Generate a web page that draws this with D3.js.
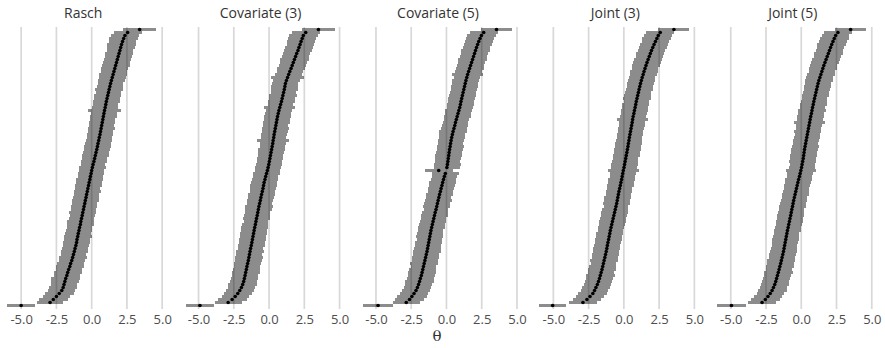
<!DOCTYPE html>
<html>
<head>
<meta charset="utf-8">
<script src="https://cdn.jsdelivr.net/npm/d3@7"></script>
<style>
  html, body { margin: 0; padding: 0; background: #fff; }
  svg { display: block; }
</style>
</head>
<body>
<svg id="chart" width="885" height="348"></svg>
<script>
// Person ability estimates (theta), ordered by rank, with their standard errors,
// for each of the five models.
const panelTitles = ["Rasch", "Covariate (3)", "Covariate (5)", "Joint (3)", "Joint (5)"];

const thetaRasch = [
  -5.00,-2.95,-2.72,-2.50,-2.30,-2.12,-2.02,-1.96,-1.90,-1.84,
  -1.76,-1.70,-1.63,-1.55,-1.49,-1.41,-1.35,-1.29,-1.23,-1.18,
  -1.12,-1.07,-1.04,-0.99,-0.95,-0.90,-0.86,-0.80,-0.77,-0.72,
  -0.67,-0.63,-0.58,-0.54,-0.49,-0.45,-0.40,-0.36,-0.31,-0.27,
  -0.22,-0.18,-0.13,-0.09,-0.04, 0.00, 0.05, 0.10, 0.16, 0.21,
   0.26, 0.31, 0.36, 0.41, 0.45, 0.50, 0.54, 0.59, 0.63, 0.67,
   0.71, 0.75, 0.79, 0.83, 0.87, 0.91, 0.96, 1.00, 1.04, 1.09,
   1.14, 1.19, 1.24, 1.29, 1.34, 1.40, 1.46, 1.52, 1.58, 1.64,
   1.70, 1.76, 1.82, 1.88, 1.94, 2.00, 2.06, 2.12, 2.19, 2.27,
   2.36, 2.55, 3.40
];
const seRasch = [
  1.00,0.95,1.02,0.98,1.04,0.97,1.01,0.95,0.99,1.03,
  0.94,0.98,0.92,1.00,0.96,0.93,0.99,0.91,0.97,0.94,
  0.90,0.96,0.93,0.98,0.91,0.95,0.89,0.94,0.97,0.92,
  0.88,0.95,0.91,0.93,0.89,0.96,0.92,0.90,0.94,0.88,
  0.93,0.91,0.95,0.89,0.92,0.90,0.94,0.88,0.93,0.91,
  0.96,0.89,0.92,0.95,0.90,0.93,0.88,0.94,0.91,0.96,
  0.90,0.93,0.89,0.95,0.92,1.18,0.94,0.90,0.96,0.92,
  0.95,0.91,0.97,0.93,0.90,0.96,0.94,0.98,0.92,0.95,
  0.99,0.93,0.97,0.95,1.00,0.94,0.98,1.01,0.96,1.02,
  0.99,1.00,1.15
];

const thetaCov3 = [
  -4.90,-2.90,-2.62,-2.40,-2.22,-2.08,-1.96,-1.87,-1.80,-1.75,
  -1.70,-1.66,-1.61,-1.57,-1.52,-1.47,-1.43,-1.39,-1.35,-1.31,
  -1.26,-1.22,-1.18,-1.14,-1.10,-1.06,-1.02,-0.97,-0.93,-0.89,
  -0.84,-0.80,-0.76,-0.72,-0.67,-0.62,-0.58,-0.53,-0.48,-0.43,
  -0.39,-0.35,-0.29,-0.24,-0.18,-0.12,-0.07,-0.02, 0.02, 0.06,
   0.10, 0.14, 0.18, 0.22, 0.26, 0.29, 0.33, 0.36, 0.40, 0.44,
   0.48, 0.52, 0.56, 0.60, 0.65, 0.70, 0.76, 0.82, 0.88, 0.93,
   0.98, 1.03, 1.08, 1.12, 1.16, 1.23, 1.31, 1.39, 1.47, 1.56,
   1.64, 1.72, 1.80, 1.88, 1.96, 2.05, 2.12, 2.20, 2.27, 2.35,
   2.43, 2.60, 3.50
];
const seCov3 = [
  0.98,0.96,1.03,0.97,1.01,0.99,0.95,1.02,0.94,0.98,
  0.93,1.00,0.95,0.91,0.97,0.94,0.99,0.92,0.96,0.90,
  0.95,0.93,0.98,0.89,0.94,0.91,0.96,0.92,0.88,0.95,
  0.93,0.90,0.94,0.97,0.89,0.93,0.91,0.95,0.88,0.92,
  0.96,0.90,0.93,0.89,0.94,0.91,0.95,0.92,0.88,0.94,
  0.90,0.93,0.96,0.89,0.92,1.12,0.90,0.94,0.91,0.95,
  0.89,0.93,0.90,0.96,0.92,0.94,1.10,0.91,0.95,0.93,
  0.97,0.90,0.94,0.96,0.92,0.98,1.15,0.95,0.93,0.99,
  0.96,0.94,1.00,0.97,0.95,1.01,0.98,0.96,1.02,0.99,
  1.01,0.98,1.15
];

const thetaCov5 = [
  -4.85,-2.85,-2.62,-2.45,-2.30,-2.16,-2.06,-1.98,-1.91,-1.85,
  -1.78,-1.73,-1.68,-1.63,-1.58,-1.53,-1.48,-1.43,-1.38,-1.34,
  -1.30,-1.26,-1.22,-1.18,-1.14,-1.10,-1.05,-1.00,-0.95,-0.90,
  -0.85,-0.80,-0.74,-0.69,-0.64,-0.59,-0.54,-0.49,-0.43,-0.38,
  -0.32,-0.27,-0.21,-0.15,-0.08,-0.55, 0.03, 0.07, 0.10, 0.13,
   0.16, 0.19, 0.22, 0.26, 0.29, 0.33, 0.37, 0.42, 0.47, 0.53,
   0.59, 0.64, 0.70, 0.76, 0.82, 0.88, 0.94, 0.99, 1.03, 1.08,
   1.13, 1.18, 1.23, 1.28, 1.33, 1.38, 1.44, 1.50, 1.57, 1.64,
   1.71, 1.78, 1.85, 1.92, 1.99, 2.06, 2.13, 2.21, 2.29, 2.38,
   2.48, 2.64, 3.55
];
const seCov5 = [
  1.05,0.97,1.00,1.04,0.96,1.02,0.98,0.95,1.01,0.97,
  0.94,0.99,0.96,0.92,0.98,0.93,0.95,0.91,0.97,0.94,
  0.92,0.96,0.90,0.95,0.93,0.89,0.96,0.92,0.94,0.90,
  0.95,0.91,0.88,0.94,0.92,0.96,0.89,0.93,0.91,0.95,
  0.90,0.94,0.92,0.88,0.95,0.98,0.91,0.94,0.89,0.93,
  0.96,0.90,0.92,0.95,0.88,0.94,0.91,0.93,0.97,0.90,
  0.94,0.92,0.89,0.95,0.93,0.96,0.91,0.94,0.90,0.97,
  0.93,0.95,0.92,0.98,0.94,0.96,0.93,1.12,0.95,0.99,
  0.97,0.94,1.00,0.96,0.98,1.02,0.95,0.99,1.01,0.97,
  1.03,1.00,1.12
];

const thetaJoint3 = [
  -5.05,-2.90,-2.62,-2.40,-2.20,-2.08,-1.98,-1.88,-1.80,-1.73,
  -1.67,-1.61,-1.55,-1.50,-1.45,-1.40,-1.35,-1.30,-1.25,-1.21,
  -1.17,-1.13,-1.08,-1.04,-1.00,-0.96,-0.91,-0.86,-0.81,-0.76,
  -0.71,-0.66,-0.61,-0.56,-0.51,-0.47,-0.43,-0.39,-0.35,-0.30,
  -0.25,-0.21,-0.16,-0.12,-0.08,-0.04, 0.01, 0.05, 0.09, 0.13,
   0.17, 0.21, 0.25, 0.29, 0.32, 0.36, 0.39, 0.43, 0.47, 0.51,
   0.55, 0.59, 0.62, 0.66, 0.71, 0.75, 0.80, 0.84, 0.88, 0.93,
   0.98, 1.03, 1.08, 1.13, 1.18, 1.24, 1.30, 1.37, 1.43, 1.50,
   1.57, 1.64, 1.72, 1.80, 1.88, 1.96, 2.05, 2.14, 2.24, 2.34,
   2.44, 2.58, 3.55
];
const seJoint3 = [
  0.96,0.98,1.01,0.96,1.03,0.97,1.00,0.94,0.99,0.96,
  1.02,0.93,0.97,0.95,0.91,0.98,0.94,0.96,0.92,0.97,
  0.93,0.90,0.95,0.92,0.96,0.89,0.94,0.91,0.95,0.93,
  0.90,0.96,0.92,0.88,0.94,0.91,0.95,0.89,0.93,0.90,
  0.94,0.92,0.96,0.89,0.93,1.08,0.90,0.94,0.92,0.88,
  0.95,0.91,0.93,0.90,0.96,0.92,0.89,0.94,0.91,0.95,
  0.93,0.90,1.12,0.94,0.91,0.96,0.93,0.95,0.90,0.97,
  0.94,0.92,0.96,0.93,0.98,0.95,0.93,0.97,0.99,0.94,
  0.98,0.96,1.00,0.95,0.99,0.97,1.01,0.98,0.96,1.02,
  1.00,0.99,1.10
];

const thetaJoint5 = [
  -4.95,-2.78,-2.55,-2.36,-2.20,-2.07,-1.97,-1.88,-1.81,-1.75,
  -1.69,-1.63,-1.57,-1.52,-1.46,-1.41,-1.36,-1.31,-1.26,-1.22,
  -1.18,-1.14,-1.10,-1.06,-1.02,-0.98,-0.93,-0.89,-0.84,-0.80,
  -0.75,-0.71,-0.67,-0.62,-0.58,-0.54,-0.49,-0.44,-0.39,-0.34,
  -0.29,-0.24,-0.19,-0.13,-0.08,-0.03, 0.02, 0.06, 0.10, 0.14,
   0.17, 0.20, 0.23, 0.27, 0.31, 0.35, 0.39, 0.43, 0.47, 0.51,
   0.55, 0.59, 0.63, 0.67, 0.72, 0.76, 0.80, 0.85, 0.89, 0.94,
   0.99, 1.04, 1.09, 1.14, 1.19, 1.25, 1.32, 1.39, 1.46, 1.53,
   1.60, 1.68, 1.76, 1.84, 1.92, 2.00, 2.08, 2.16, 2.25, 2.34,
   2.44, 2.60, 3.50
];
const seJoint5 = [
  1.00,0.97,1.02,0.99,0.95,1.03,0.97,1.00,0.94,0.98,
  0.95,1.01,0.93,0.97,0.94,0.99,0.91,0.96,0.93,0.95,
  0.90,0.94,0.97,0.92,0.89,0.95,0.93,0.91,0.96,0.90,
  0.94,0.92,0.88,0.95,0.91,0.93,0.89,0.96,0.92,0.90,
  0.94,0.91,0.95,0.88,0.93,1.06,0.92,0.89,0.94,0.91,
  0.95,0.90,0.93,0.96,0.89,0.92,0.94,0.90,0.95,0.91,
  0.93,1.10,0.90,0.94,0.92,0.96,0.89,0.95,0.93,0.91,
  0.97,0.94,0.92,0.96,0.93,0.98,0.95,0.97,0.94,0.99,
  0.96,1.00,0.97,0.95,1.01,0.98,0.96,1.02,0.99,1.01,
  0.98,1.00,1.12
];

const xTicks = [-5, -2.5, 0, 2.5, 5];
const xLabel = "θ";

// Table of panels assembled from the arrays above
const panels = panelTitles.map((title, k) => ({
  title,
  theta: [thetaRasch, thetaCov3, thetaCov5, thetaJoint3, thetaJoint5][k],
  se: [seRasch, seCov3, seCov5, seJoint3, seJoint5][k]
}));

// Layout
const panelStep = 177.4;
const panelWidth = 166.4;
const gridTop = 27, gridBottom = 309;
const rowBottom = 305.5, rowTop = 29.5;

const svg = d3.select("#chart");
const fmt = d3.formatLocale({decimal: ".", thousands: ",", grouping: [3], currency: ["", ""], minus: "-"}).format(".1f");

panels.forEach((p, k) => {
  const left = k * panelStep;
  const x = d3.scaleLinear().domain([-6.5, 5.3]).range([left, left + panelWidth]);
  const n = p.theta.length;
  const y = d3.scaleLinear().domain([0, n - 1]).range([rowBottom, rowTop]);

  const g = svg.append("g").attr("class", "panel");

  // vertical grid lines
  g.append("g").selectAll("line").data(xTicks).join("line")
    .attr("x1", d => x(d)).attr("x2", d => x(d))
    .attr("y1", gridTop).attr("y2", gridBottom)
    .attr("stroke", "#d8d8d8").attr("stroke-width", 1.7);

  // axis with tick labels only
  const axis = d3.axisBottom(x).tickValues(xTicks).tickFormat(fmt).tickSize(0).tickPadding(0);
  const ax = g.append("g").attr("transform", `translate(0,${gridBottom + 4})`).call(axis);
  ax.select(".domain").remove();
  ax.selectAll("text")
    .attr("dy", null).attr("y", 11)
    .attr("font-family", "'Open Sans', 'Noto Sans', sans-serif")
    .attr("font-size", 13).attr("fill", "#4d4d4d");

  const rows = p.theta.map((t, i) => ({i, t, s: p.se[i]}));

  // error bars: theta ± se
  g.append("g").selectAll("line").data(rows).join("line")
    .attr("x1", d => x(d.t - d.s)).attr("x2", d => x(d.t + d.s))
    .attr("y1", d => y(d.i)).attr("y2", d => y(d.i))
    .attr("stroke", "#000").attr("stroke-opacity", 0.45)
    .attr("stroke-width", 3).attr("shape-rendering", "crispEdges");

  // point estimates
  g.append("g").selectAll("circle").data(rows).join("circle")
    .attr("cx", d => x(d.t)).attr("cy", d => y(d.i))
    .attr("r", 1.8).attr("fill", "#000");

  // panel title
  g.append("text")
    .attr("x", left + panelWidth / 2).attr("y", 18)
    .attr("text-anchor", "middle")
    .attr("font-family", "'Open Sans', 'Noto Sans', sans-serif")
    .attr("font-size", 14).attr("fill", "#333")
    .text(p.title);
});

// shared x-axis title
svg.append("text")
  .attr("x", 437).attr("y", 341)
  .attr("text-anchor", "middle")
  .attr("font-family", "'DejaVu Serif', serif")
  .attr("font-size", 15).attr("fill", "#333")
  .text(xLabel);
</script>
</body>
</html>
